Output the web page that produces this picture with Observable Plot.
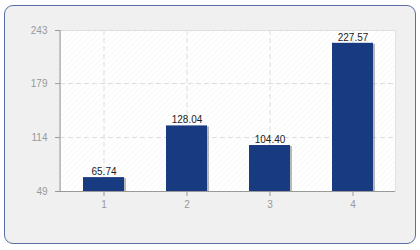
<!DOCTYPE html>
<html>
<head>
<meta charset="utf-8">
<script src="https://cdn.jsdelivr.net/npm/d3@7"></script>
<script src="https://cdn.jsdelivr.net/npm/@observablehq/plot@0.6"></script>
<style>
  html, body { margin: 0; padding: 0; background: #ffffff; }
  #wrap { position: relative; width: 420px; height: 250px; overflow: hidden; }
  #box { position: absolute; left: 4px; top: 5px; width: 410px; height: 237px;
         border: 1.5px solid #5b6ea6; border-radius: 9px; background: #f0f0f0; }
  #chart { position: absolute; left: 0; top: 0; }
  #chart svg { background: transparent; }
</style>
</head>
<body>
<div id="wrap"><div id="box"></div><div id="chart"></div></div>
<script>
const categories = ["1", "2", "3", "4"];
const values = [65.74, 128.04, 104.40, 227.57];
const yTicks = [49, 114, 179, 243];

const data = categories.map((c, i) => ({cat: c, value: values[i]}));
const yMin = yTicks[0], yMax = yTicks[yTicks.length - 1];
const font = "'Liberation Sans', Arial, sans-serif";
const M = {left: 60, right: 25, top: 30, bottom: 59};
const W = 420, H = 250;

const plot = Plot.plot({
  width: W,
  height: H,
  marginLeft: M.left,
  marginRight: M.right,
  marginTop: M.top,
  marginBottom: M.bottom,
  style: {fontFamily: font, fontSize: "10px", background: "transparent"},
  x: {domain: categories, padding: 0, label: null},
  y: {domain: [yMin, yMax], label: null},
  marks: [
    Plot.frame({fill: "url(#hatch)", stroke: "#e2e2e2"}),
    Plot.gridY(yTicks, {stroke: "#dcdcdc", strokeOpacity: 1, strokeDasharray: "5,3"}),
    Plot.gridX(categories, {stroke: "#dcdcdc", strokeOpacity: 1, strokeDasharray: "5,3"}),
    Plot.barY(data, {x: "cat", y1: yMin, y2: "value", fill: "#8a8a8a", fillOpacity: 0.6,
      insetLeft: 23, insetRight: 19, dy: 1}),
    Plot.barY(data, {x: "cat", y1: yMin, y2: "value", fill: "#183a80", insetLeft: 21, insetRight: 21}),
    Plot.text(data, {x: "cat", y: "value", text: d => d.value.toFixed(2), dy: -6,
      fill: "#222", fontSize: 10, fontFamily: font}),
    Plot.ruleY([yMin], {stroke: "#999"}),
    Plot.axisY(yTicks, {tickSize: 5, tickPadding: 8, stroke: "#999", fill: "#999", fontSize: 10}),
    Plot.axisX(categories, {tickSize: 5, tickPadding: 4, stroke: "#999", fill: "#999", fontSize: 10})
  ]
});
document.getElementById("chart").appendChild(plot);

const svg = d3.select(plot);
const defs = svg.insert("defs", ":first-child");
const pat = defs.append("pattern").attr("id", "hatch").attr("patternUnits", "userSpaceOnUse")
  .attr("width", 4).attr("height", 4).attr("patternTransform", "rotate(45)");
pat.append("rect").attr("width", 4).attr("height", 4).attr("fill", "#ffffff");
pat.append("line").attr("x1", 0).attr("y1", 0).attr("x2", 0).attr("y2", 4)
  .attr("stroke", "#f1f1f1").attr("stroke-width", 1);

// left axis line
svg.append("line").attr("x1", M.left).attr("x2", M.left)
  .attr("y1", M.top).attr("y2", H - M.bottom).attr("stroke", "#999");
</script>
</body>
</html>
